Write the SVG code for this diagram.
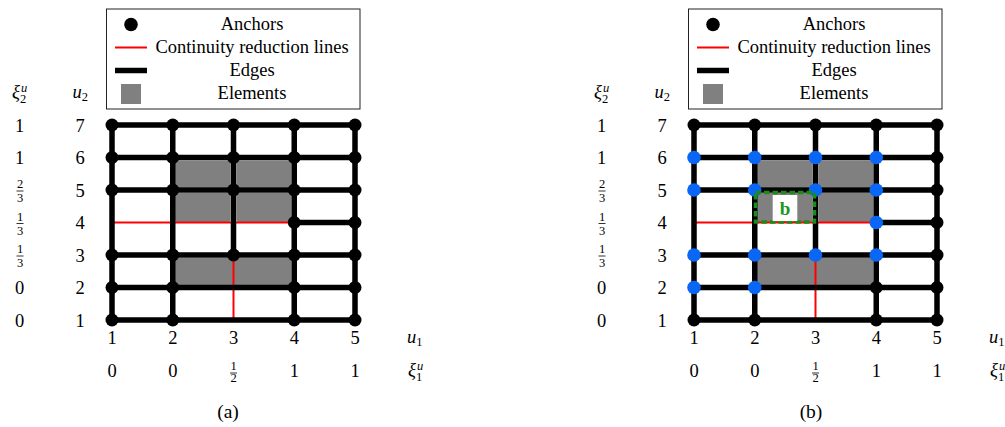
<svg xmlns="http://www.w3.org/2000/svg" width="1005" height="427" viewBox="0 0 1005 427">
<defs>
<style>
text{font-family:"Liberation Serif","Times New Roman",serif;fill:#000}
.t{font-size:18.5px}
.lg{font-size:18.5px;text-anchor:middle}
.num{font-size:18.5px;text-anchor:middle}
.sm{font-size:12.5px;text-anchor:middle}
.up{font-style:normal}
.it{font-style:italic}
.edge{stroke:#000;stroke-width:5.5;fill:none}
.red{stroke:#ff0000;stroke-width:2;fill:none}
.bar{stroke:#000;stroke-width:0.8}
.el{fill:#808080}
.anc{fill:#000}
.blue{fill:#0a66f5}
.box{fill:#fff;stroke:#222;stroke-width:1}
</style>
<g id="panel">
  <g id="legend">
    <rect class="box" x="106.5" y="9" width="253.5" height="100"/>
    <circle class="anc" cx="131" cy="24.5" r="6.8"/>
    <line class="red" x1="115" y1="47.5" x2="147" y2="47.5"/>
    <line class="edge" x1="115" y1="70.5" x2="147" y2="70.5"/>
    <rect class="el" x="121" y="84" width="20" height="20"/>
    <text class="lg" x="252" y="30">Anchors</text>
    <text class="lg" x="252" y="53">Continuity reduction lines</text>
    <text class="lg" x="252" y="76">Edges</text>
    <text class="lg" x="252" y="99">Elements</text>
  </g>
  <g id="left-axis">
    <text class="t it" x="12" y="98">ξ<tspan class="sm" x="24" y="91.5">u</tspan><tspan class="sm up" x="23" y="103">2</tspan></text>
    <text class="t it" x="72.5" y="97.5">u<tspan class="up" style="font-size:12.5px" x="81.8" y="100.5">2</tspan></text>
    <text class="num" x="19.5" y="131.5">1</text>
    <text class="num" x="19.5" y="164">1</text>
    <text class="sm" x="20" y="188">2</text><line class="bar" x1="16.5" y1="191" x2="23.5" y2="191"/><text class="sm" x="20" y="202">3</text>
    <text class="sm" x="20" y="220.5">1</text><line class="bar" x1="16.5" y1="223.5" x2="23.5" y2="223.5"/><text class="sm" x="20" y="234.5">3</text>
    <text class="sm" x="20" y="253">1</text><line class="bar" x1="16.5" y1="256" x2="23.5" y2="256"/><text class="sm" x="20" y="267">3</text>
    <text class="num" x="19.5" y="294">0</text>
    <text class="num" x="19.5" y="326.5">0</text>
    <text class="num" x="80" y="131.5">7</text>
    <text class="num" x="80" y="164">6</text>
    <text class="num" x="80" y="196.5">5</text>
    <text class="num" x="80" y="229">4</text>
    <text class="num" x="80" y="261.5">3</text>
    <text class="num" x="80" y="294">2</text>
    <text class="num" x="80" y="326.5">1</text>
  </g>
  <g id="bottom-axis">
    <text class="num" x="112" y="343.5">1</text>
    <text class="num" x="172.75" y="343.5">2</text>
    <text class="num" x="233.5" y="343.5">3</text>
    <text class="num" x="294.25" y="343.5">4</text>
    <text class="num" x="355" y="343.5">5</text>
    <text class="t it" x="407" y="343">u<tspan class="up" style="font-size:12.5px" x="416.3" y="346">1</tspan></text>
    <text class="num" x="112" y="376.5">0</text>
    <text class="num" x="172.75" y="376.5">0</text>
    <text class="sm" x="233.5" y="370">1</text><line class="bar" x1="230" y1="373" x2="237" y2="373"/><text class="sm" x="233.5" y="381.5">2</text>
    <text class="num" x="294.25" y="376.5">1</text>
    <text class="num" x="355" y="376.5">1</text>
    <text class="t it" x="408" y="376">ξ<tspan class="sm" x="420" y="369.5">u</tspan><tspan class="sm up" x="419" y="381">1</tspan></text>
  </g>
  <g id="elements">
    <rect class="el" x="175" y="160.5" width="55.5" height="27" rx="3"/>
    <rect class="el" x="236.5" y="160.5" width="55" height="27" rx="3"/>
    <rect class="el" x="175" y="193" width="55.5" height="29.5" rx="3"/>
    <rect class="el" x="236.5" y="193" width="55" height="29.5" rx="3"/>
    <rect class="el" x="175" y="258" width="116.5" height="27" rx="3"/>
  </g>
  <g id="connectors">
    <line class="red" x1="112" y1="222.5" x2="294.25" y2="222.5"/>
    <line class="red" x1="233.5" y1="255" x2="233.5" y2="320"/>
    <path class="edge" d="M112 125H355M112 157.5H355M112 190H355M294.25 222.5H355M112 255H355M112 287.5H355M112 320H355M112 125V320M172.75 125V320M233.5 125V255M294.25 125V320M355 125V320"/>
  </g>
</g>
</defs>

<g id="panel-a">
  <use href="#panel"/>
  <g id="anchors-a" class="anc">
    <circle cx="112" cy="125" r="6.5"/><circle cx="172.75" cy="125" r="6.5"/><circle cx="233.5" cy="125" r="6.5"/><circle cx="294.25" cy="125" r="6.5"/><circle cx="355" cy="125" r="6.5"/>
    <circle cx="112" cy="157.5" r="6.5"/><circle cx="172.75" cy="157.5" r="6.5"/><circle cx="233.5" cy="157.5" r="6.5"/><circle cx="294.25" cy="157.5" r="6.5"/><circle cx="355" cy="157.5" r="6.5"/>
    <circle cx="112" cy="190" r="6.5"/><circle cx="172.75" cy="190" r="6.5"/><circle cx="233.5" cy="190" r="6.5"/><circle cx="294.25" cy="190" r="6.5"/><circle cx="355" cy="190" r="6.5"/>
    <circle cx="294.25" cy="222.5" r="6.5"/><circle cx="355" cy="222.5" r="6.5"/>
    <circle cx="112" cy="255" r="6.5"/><circle cx="172.75" cy="255" r="6.5"/><circle cx="233.5" cy="255" r="6.5"/><circle cx="294.25" cy="255" r="6.5"/><circle cx="355" cy="255" r="6.5"/>
    <circle cx="112" cy="287.5" r="6.5"/><circle cx="172.75" cy="287.5" r="6.5"/><circle cx="294.25" cy="287.5" r="6.5"/><circle cx="355" cy="287.5" r="6.5"/>
    <circle cx="112" cy="320" r="6.5"/><circle cx="172.75" cy="320" r="6.5"/><circle cx="294.25" cy="320" r="6.5"/><circle cx="355" cy="320" r="6.5"/>
  </g>
  <text id="caption-a" x="228" y="418" style="font-size:19.5px;text-anchor:middle">(a)</text>
</g>

<g id="panel-b" transform="translate(582,0)">
  <use href="#panel"/>
  <g id="anchors-b-black" class="anc">
    <circle cx="112" cy="125" r="6.5"/><circle cx="172.75" cy="125" r="6.5"/><circle cx="233.5" cy="125" r="6.5"/><circle cx="294.25" cy="125" r="6.5"/><circle cx="355" cy="125" r="6.5"/>
    <circle cx="355" cy="157.5" r="6.5"/><circle cx="355" cy="190" r="6.5"/><circle cx="355" cy="222.5" r="6.5"/><circle cx="355" cy="255" r="6.5"/>
    <circle cx="294.25" cy="287.5" r="6.5"/><circle cx="355" cy="287.5" r="6.5"/>
    <circle cx="112" cy="320" r="6.5"/><circle cx="172.75" cy="320" r="6.5"/><circle cx="294.25" cy="320" r="6.5"/><circle cx="355" cy="320" r="6.5"/>
  </g>
  <g id="anchors-b-blue" class="blue">
    <circle cx="112" cy="157.5" r="6.8"/><circle cx="172.75" cy="157.5" r="6.8"/><circle cx="233.5" cy="157.5" r="6.8"/><circle cx="294.25" cy="157.5" r="6.8"/>
    <circle cx="112" cy="190" r="6.8"/><circle cx="172.75" cy="190" r="6.8"/><circle cx="233.5" cy="190" r="6.8"/><circle cx="294.25" cy="190" r="6.8"/>
    <circle cx="294.25" cy="222.5" r="6.8"/>
    <circle cx="112" cy="255" r="6.8"/><circle cx="172.75" cy="255" r="6.8"/><circle cx="233.5" cy="255" r="6.8"/><circle cx="294.25" cy="255" r="6.8"/>
    <circle cx="112" cy="287.5" r="6.8"/><circle cx="172.75" cy="287.5" r="6.8"/>
  </g>
  <g id="element-b">
    <rect x="173.5" y="192.5" width="59" height="29.5" fill="none" stroke="#1a8c1a" stroke-width="3.5" stroke-dasharray="5.5 3"/>
    <rect x="190.7" y="195" width="24.6" height="26" fill="#fff"/>
    <text x="203" y="214.5" style="font-size:19px;font-weight:bold;text-anchor:middle;fill:#1a961a">b</text>
  </g>
  <text id="caption-b" x="229" y="418" style="font-size:19.5px;text-anchor:middle">(b)</text>
</g>
</svg>
